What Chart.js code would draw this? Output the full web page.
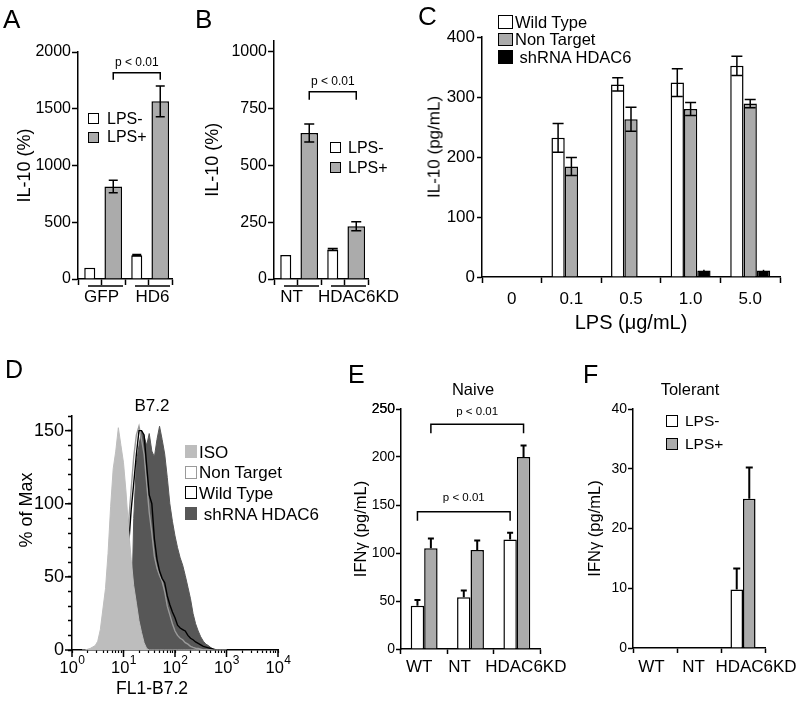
<!DOCTYPE html>
<html>
<head>
<meta charset="utf-8">
<title>IL-10 / IFNγ figure</title>
<script src="https://cdn.jsdelivr.net/npm/chart.js@4.4.1/dist/chart.umd.min.js"></script>
<style>
  body { margin: 0; width: 800px; height: 704px; position: relative; overflow: hidden; background: #fff;
         font-family: Arial, "Liberation Sans", Helvetica, sans-serif; }
  canvas { position: absolute; }
  .t { position: absolute; white-space: pre; line-height: 1; color: #000; transform: translateY(-50%); }
  .c { transform: translate(-50%, -50%); }
  .r { transform: translate(-50%, -50%) rotate(-90deg); }
  .box { position: absolute; box-sizing: border-box; }
</style>
</head>
<body>
<script>
// ---- A: IL-10 (%) after GFP / HD6 transfection ----
const barsA = ['GFP LPS-', 'GFP LPS+', 'HD6 LPS-', 'HD6 LPS+'];
const groupsA = ['GFP', 'HD6'];
const minusA = [100, null, 210, null];
const plusA = [null, 815, null, 1565];
const minusErrA = [0, null, 6, null];
const plusErrA = [null, 55, null, 135];

// ---- B: IL-10 (%) NT vs HDAC6 knock-down ----
const barsB = ['NT LPS-', 'NT LPS+', 'HDAC6KD LPS-', 'HDAC6KD LPS+'];
const groupsB = ['NT', 'HDAC6KD'];
const minusB = [106, null, 130, null];
const plusB = [null, 643, null, 232];
const minusErrB = [0, null, 4, null];
const plusErrB = [null, 40, null, 20];

// ---- C: IL-10 (pg/mL) vs LPS dose ----
const lpsDoses = ['0', '0.1', '0.5', '1.0', '5.0'];
const wildTypeC = [null, 232, 321, 324, 352];
const nonTargetC = [null, 184, 263, 280, 289];
const shHdac6C = [null, null, 1.5, 11, 11];
const wildTypeErrC = [0, 24, 11, 23, 16];
const nonTargetErrC = [0, 15, 20, 11, 7];
const shHdac6ErrC = [0, 0, 0, 1, 1];

// ---- D: B7.2 flow histogram (% of max per FL1 channel) ----
const fl1Channel = [1.58, 1.78, 2.0, 2.24, 2.51, 2.82, 3.16, 3.55, 3.98, 4.47,
  5.01, 5.62, 6.31, 7.08, 7.94, 8.91, 10, 11.2, 12.6, 14.1,
  15.8, 17.8, 20.0, 22.4, 25.1, 28.2, 31.6, 35.5, 39.8, 44.7,
  50.1, 56.2, 63.1, 70.8, 79.4, 89.1, 100, 112, 126, 141,
  158, 178, 200, 224, 251, 282, 316, 355, 398, 447,
  501, 562, 631, 708, 794, 891, 1000];
const isoCounts = [0, 0, 0.5, 1, 2, 3, 6, 14, 28, 42,
  66, 98, 124, 136, 152, 140, 128, 108, 82, 62,
  44, 32, 20, 12, 5, 1, 0, 0, 0, 0,
  0, 0, 0, 0, 0, 0, 0, 0, 0, 0,
  0, 0, 0, 0, 0, 0, 0, 0, 0, 0,
  0, 0, 0, 0, 0, 0, 0];
const nonTargetCounts = [0, 0, 0, 0, 0, 0, 0, 0, 0, 0,
  0, 0, 0, 0, 0, 0, 15, 50, 88, 110,
  132, 147, 153, 144, 134, 114, 94, 80, 64, 56,
  51, 47, 40, 30, 24, 18, 13, 10, 8, 7,
  5, 4, 2.5, 1.8, 1.2, 1, 0.5, 0, 0, 0,
  0, 0, 0, 0, 0, 0, 0];
const wildTypeCounts = [0, 0, 0, 0, 0, 0, 0, 0, 0, 0,
  0, 0, 0, 0, 0, 0, 10, 38, 72, 96,
  114, 134, 150, 150, 147, 126, 106, 100, 76, 62,
  54, 49, 46, 37, 31, 26, 22, 17, 15, 14,
  13, 10, 8, 7, 5.5, 4.5, 3.5, 2.5, 2, 1.5,
  1, 0.5, 0, 0, 0, 0, 0];
const shHdac6Counts = [0, 0, 0, 0, 0, 0, 0, 0, 0, 0,
  0, 0, 0, 0, 0, 0, 0, 0, 2, 12,
  90, 128, 140, 150, 146, 140, 148, 136, 132, 144,
  153, 144, 134, 118, 100, 88, 78, 70, 63, 58,
  51, 43, 35, 25, 18, 13, 9, 6, 4, 3,
  1.5, 0.5, 0, 0, 0, 0, 0];
const decadesD = [1, 10, 100, 1000, 10000];

// ---- E / F: IFNγ (pg/mL) ----
const strains = ['WT', 'NT', 'HDAC6KD'];
const naiveMinus = [45, 54, 114];
const naivePlus = [105, 103, 200];
const naiveMinusErr = [6, 7, 7];
const naivePlusErr = [10, 10, 12];
const tolerantMinus = [null, null, 9.8];
const tolerantPlus = [null, null, 25];
const tolerantMinusErr = [0, 0, 3.5];
const tolerantPlusErr = [0, 0, 5.2];

// ---- shared setup ----
const FONT = 'Arial, "Liberation Sans", Helvetica, sans-serif';
const GRAY = '#ababab';
Chart.defaults.font.family = FONT;
Chart.defaults.color = '#000';
Chart.defaults.animation = false;
Chart.defaults.plugins.legend.display = false;
Chart.defaults.plugins.tooltip.enabled = false;

function addText(str, x, y, size, cls) {
  const d = document.createElement('div');
  d.className = 't' + (cls ? ' ' + cls : '');
  d.textContent = str;
  d.style.left = x + 'px';
  d.style.top = y + 'px';
  d.style.fontSize = size + 'px';
  document.body.appendChild(d);
  return d;
}

// legend boxes built from the chart's own datasets
function htmlLegend(chart, o) {
  chart.data.datasets.forEach((ds, i) => {
    const top = o.y + i * o.step;
    const b = document.createElement('div');
    b.className = 'box';
    b.style.left = o.x + 'px';
    b.style.top = top + 'px';
    b.style.width = o.bw + 'px';
    b.style.height = o.bh + 'px';
    b.style.background = ds.legendFill || ds.backgroundColor;
    b.style.border = ds.legendBorder || ('1.5px solid ' + ds.borderColor);
    document.body.appendChild(b);
    addText(ds.label, o.tx, top + o.bh / 2, o.fs);
  });
}

function yAxis(o) {
  const ax = {
    min: o.min, max: o.max,
    // ticks every `step` from min, the axis line may run a bit past the last one
    afterBuildTicks: s => {
      const t = [];
      for (let v = o.min; v <= o.max + 1e-9; v += o.step) t.push({ value: v });
      s.ticks = t;
    },
    border: { color: '#000', width: 1.5 },
    grid: { drawOnChartArea: false, tickLength: o.tick || 6, tickColor: '#000', tickWidth: 1.5 },
    ticks: { font: { size: o.fs }, padding: o.pad ?? 1, autoSkip: false, callback: o.cb || (v => String(v)) },
    title: { display: !!o.title, text: o.title || '', font: { size: o.tfs || 16 }, padding: 0 }
  };
  if (o.z) ax.z = o.z;
  return ax;
}

function xAxis(o) {
  return {
    border: { color: '#000', width: 1.5 },
    grid: { drawOnChartArea: false, tickLength: o.tick || 6, tickColor: '#000', tickWidth: 1.5 },
    ticks: { display: o.labels !== false, font: { size: o.fs || 17 }, padding: o.pad ?? 3, maxRotation: 0, autoSkip: false },
    title: { display: !!o.title, text: o.title || '', font: { size: o.tfs || 18 }, padding: 0 }
  };
}

// error bars, significance brackets, group underlines, shifted category labels, major ticks
function overlay(cfg) {
  return {
    id: 'overlay',
    afterDatasetsDraw(chart) {
      const ctx = chart.ctx, ys = chart.scales.y;
      ctx.save();
      ctx.strokeStyle = '#000';
      ctx.fillStyle = '#000';
      (cfg.errors || []).forEach(e => {
        const meta = chart.getDatasetMeta(e.ds);
        const vals = chart.data.datasets[e.ds].data;
        ctx.lineWidth = e.lw || 1.5;
        vals.forEach((v, i) => {
          const err = e.err[i];
          if (v == null || !err) return;
          const x = meta.data[i].x;
          const top = ys.getPixelForValue(v + err);
          const bot = ys.getPixelForValue(e.upperOnly ? v : v - err);
          const h = e.cap / 2;
          ctx.beginPath();
          ctx.moveTo(x, top); ctx.lineTo(x, bot);
          ctx.moveTo(x - h, top); ctx.lineTo(x + h, top);
          if (!e.upperOnly) { ctx.moveTo(x - h, bot); ctx.lineTo(x + h, bot); }
          ctx.stroke();
        });
      });
      (cfg.brackets || []).forEach(b => {
        const x1 = chart.getDatasetMeta(b.from[0]).data[b.from[1]].x;
        const x2 = chart.getDatasetMeta(b.to[0]).data[b.to[1]].x;
        const y = ys.getPixelForValue(b.at);
        ctx.lineWidth = 1.5;
        ctx.beginPath();
        ctx.moveTo(x1, y + b.leg); ctx.lineTo(x1, y); ctx.lineTo(x2, y); ctx.lineTo(x2, y + b.leg);
        ctx.stroke();
        ctx.font = b.fs + 'px ' + FONT;
        ctx.textAlign = 'center';
        ctx.textBaseline = 'middle';
        ctx.fillText(b.text, (x1 + x2) / 2, y - b.gap);
      });
      ctx.restore();
    },
    afterDraw(chart) {
      const ctx = chart.ctx, area = chart.chartArea;
      ctx.save();
      ctx.strokeStyle = '#000';
      ctx.fillStyle = '#000';
      ctx.lineWidth = 1.5;
      ctx.textAlign = 'center';
      ctx.textBaseline = 'middle';
      if (cfg.groups) {
        const g = cfg.groups, xs = chart.scales.x;
        const half = (xs.getPixelForValue(1) - xs.getPixelForValue(0)) / 2;
        ctx.font = g.fs + 'px ' + FONT;
        g.names.forEach((name, k) => {
          const a = xs.getPixelForValue(k * g.size) - half + 10;
          const b = xs.getPixelForValue(k * g.size + g.size - 1) + half - 2;
          ctx.beginPath();
          ctx.moveTo(a, xs.top + 7); ctx.lineTo(b, xs.top + 7);
          ctx.stroke();
          ctx.fillText(name, (a + b) / 2 + g.shifts[k], xs.top + 18);
        });
      }
      if (cfg.catLabels) {
        const c = cfg.catLabels, xs = chart.scales.x;
        ctx.font = c.fs + 'px ' + FONT;
        chart.data.labels.forEach((name, i) => {
          ctx.fillText(name, xs.getPixelForValue(i) + c.shifts[i], xs.top + c.dy);
        });
      }
      if (cfg.topLabel) {
        // top y tick label, drawn once more from the scale's last tick
        const ys = chart.scales.y, last = ys.ticks[ys.ticks.length - 1];
        const o = ys.options;
        ctx.font = o.ticks.font.size + 'px ' + FONT;
        ctx.textAlign = 'right';
        ctx.fillText(last.label, area.left - o.grid.tickLength - o.ticks.padding, ys.getPixelForValue(last.value));
        ctx.textAlign = 'center';
      }
      if (cfg.powLabels) {
        // 10 with a raised exponent under each decade tick
        const p = cfg.powLabels, xs = chart.scales.x;
        p.values.forEach(v => {
          const e = String(Math.round(Math.log10(v)));
          ctx.font = p.fs + 'px ' + FONT;
          const wb = ctx.measureText(p.base).width;
          ctx.font = p.efs + 'px ' + FONT;
          const we = ctx.measureText(e).width;
          const x0 = xs.getPixelForValue(v) - (wb + we) / 2;
          ctx.textAlign = 'left';
          ctx.font = p.fs + 'px ' + FONT;
          ctx.fillText(p.base, x0, xs.top + p.dy);
          ctx.font = p.efs + 'px ' + FONT;
          ctx.fillText(e, x0 + wb + 0.5, xs.top + p.dy - p.rise);
        });
        ctx.textAlign = 'center';
      }
      (cfg.majorX || []).forEach(v => {
        const px = chart.scales.x.getPixelForValue(v);
        ctx.beginPath(); ctx.moveTo(px, area.bottom); ctx.lineTo(px, area.bottom + cfg.majorLen); ctx.stroke();
      });
      (cfg.majorY || []).forEach(v => {
        const py = chart.scales.y.getPixelForValue(v);
        ctx.beginPath(); ctx.moveTo(area.left - cfg.majorLen, py); ctx.lineTo(area.left, py); ctx.stroke();
      });
      ctx.restore();
    }
  };
}

// canvas box on the page + wanted chart area; axis boxes are given fixed sizes
function panel(box, area, axisLeft, cfg) {
  const c = document.createElement('canvas');
  c.width = box.w;
  c.height = box.h;
  c.style.left = box.x + 'px';
  c.style.top = box.y + 'px';
  document.body.appendChild(c);
  cfg.options.responsive = false;
  cfg.options.layout = { padding: { left: axisLeft - box.x, top: area.t - box.y, right: box.x + box.w - area.r, bottom: 0 } };
  cfg.options.scales.y.afterFit = s => { s.width = area.l - axisLeft; };
  cfg.options.scales.x.afterFit = s => { s.height = box.y + box.h - area.b; };
  return new Chart(c, cfg);
}

function barSet(label, data, fill, extra) {
  return Object.assign({ label, data, backgroundColor: fill, borderColor: '#000', borderWidth: 1.5 }, extra);
}

// ---- A ----
const chartA = panel({ x: 0, y: 0, w: 200, h: 320 }, { l: 78, t: 52, r: 172, b: 279 }, 14, {
  type: 'bar',
  data: { labels: barsA, datasets: [
    barSet('LPS-', minusA, '#fff', { grouped: false, categoryPercentage: 1, barPercentage: 0.47 }),
    barSet('LPS+', plusA, GRAY, { grouped: false, categoryPercentage: 1, barPercentage: 0.75 })
  ] },
  options: { scales: {
    x: xAxis({ labels: false }),
    y: yAxis({ min: 0, max: 2000, step: 500, fs: 16, title: 'IL-10 (%)', tfs: 18 })
  } },
  plugins: [overlay({
    errors: [{ ds: 0, err: minusErrA, cap: 9 }, { ds: 1, err: plusErrA, cap: 9 }],
    brackets: [{ from: [1, 1], to: [1, 3], at: 1818, leg: 7, gap: 10, fs: 12, text: 'p < 0.01' }],
    groups: { names: groupsA, size: 2, shifts: [-4, 0], fs: 17 }
  })]
});
htmlLegend(chartA, { x: 88, y: 113, step: 18.5, bw: 11, bh: 11, tx: 107, fs: 16 });

// ---- B ----
const chartB = panel({ x: 196, y: 0, w: 214, h: 320 }, { l: 274, t: 40.6, r: 368, b: 279 }, 202, {
  type: 'bar',
  data: { labels: barsB, datasets: [
    barSet('LPS-', minusB, '#fff', { grouped: false, categoryPercentage: 1, barPercentage: 0.47 }),
    barSet('LPS+', plusB, GRAY, { grouped: false, categoryPercentage: 1, barPercentage: 0.75 })
  ] },
  options: { scales: {
    x: xAxis({ labels: false }),
    y: yAxis({ min: 0, max: 1050, step: 250, fs: 16, title: 'IL-10 (%)', tfs: 18 })
  } },
  plugins: [overlay({
    errors: [{ ds: 0, err: minusErrB, cap: 10 }, { ds: 1, err: plusErrB, cap: 10 }],
    brackets: [{ from: [1, 1], to: [1, 3], at: 825, leg: 8, gap: 10, fs: 12, text: 'p < 0.01' }],
    groups: { names: groupsB, size: 2, shifts: [-10, 10], fs: 17 }
  })]
});
htmlLegend(chartB, { x: 330, y: 142, step: 20, bw: 11, bh: 11, tx: 348, fs: 16 });

// ---- C ----
const chartC = panel({ x: 400, y: 0, w: 400, h: 335 }, { l: 482, t: 37, r: 780, b: 277 }, 420, {
  type: 'bar',
  data: { labels: lpsDoses, datasets: [
    barSet('Wild Type', wildTypeC, '#fff', { categoryPercentage: 0.67, barPercentage: 1 }),
    barSet('Non Target', nonTargetC, GRAY, { categoryPercentage: 0.67, barPercentage: 1 }),
    barSet(' shRNA HDAC6', shHdac6C, '#000', { categoryPercentage: 0.67, barPercentage: 1 })
  ] },
  options: { scales: {
    x: xAxis({ fs: 17, pad: 6, title: 'LPS (μg/mL)', tfs: 20 }),
    y: yAxis({ min: 0, max: 400, step: 100, fs: 17, tick: 5, pad: 2 })
  } },
  plugins: [overlay({
    errors: [
      { ds: 0, err: wildTypeErrC, cap: 11 },
      { ds: 1, err: nonTargetErrC, cap: 11 },
      { ds: 2, err: shHdac6ErrC, cap: 0 }
    ]
  })]
});
htmlLegend(chartC, { x: 498, y: 15, step: 17.5, bw: 15, bh: 13.5, tx: 515, fs: 16.5 });
addText('IL-10 (pg/mL)', 434, 147, 17, 'r');

// ---- D ----
const ticksD = [];
decadesD.slice(0, -1).forEach(d => { for (let k = 1; k <= 9; k++) ticksD.push(d * k); });
ticksD.push(decadesD[decadesD.length - 1]);
const hist = arr => fl1Channel.map((x, i) => ({ x, y: arr[i] }));
const lineBase = { pointRadius: 0, tension: 0 };
const chartD = panel({ x: 0, y: 390, w: 330, h: 314 }, { l: 72, t: 416, r: 278, b: 650 }, 30, {
  type: 'line',
  data: { datasets: [
    Object.assign({ label: 'ISO', data: hist(isoCounts), order: 0, fill: 'origin', backgroundColor: '#bdbdbd',
      borderColor: '#bdbdbd', borderWidth: 1, legendFill: '#bdbdbd', legendBorder: 'none' }, lineBase),
    Object.assign({ label: 'Non Target', data: hist(nonTargetCounts), order: 2, fill: false, borderColor: '#9a9a9a',
      borderWidth: 1.4, legendFill: '#fff', legendBorder: '1.5px solid #9a9a9a' }, lineBase),
    Object.assign({ label: 'Wild Type', data: hist(wildTypeCounts), order: 1, fill: false, borderColor: '#000',
      borderWidth: 1.4, legendFill: '#fff', legendBorder: '1.5px solid #000' }, lineBase),
    Object.assign({ label: ' shRNA HDAC6', data: hist(shHdac6Counts), order: 3, fill: 'origin', backgroundColor: '#575757',
      borderColor: '#575757', borderWidth: 1, legendFill: '#575757', legendBorder: 'none' }, lineBase)
  ] },
  options: { scales: {
    x: {
      type: 'logarithmic', min: 1, max: 10000, z: 1,
      afterBuildTicks: s => { s.ticks = ticksD.map(v => ({ value: v })); },
      border: { color: '#000', width: 1.5 },
      grid: { drawOnChartArea: false, tickLength: 3, tickColor: '#000', tickWidth: 1.2 },
      ticks: { autoSkip: false, maxRotation: 0, callback: () => '' }
    },
    y: yAxis({ min: 0, max: 160, step: 10, fs: 18, tick: 4, pad: 4, z: 1, cb: v => (v % 50 === 0 ? String(v) : '') })
  } },
  plugins: [overlay({
    majorX: decadesD, majorY: [0, 50, 100, 150], majorLen: 7,
    powLabels: { values: decadesD, base: '10', fs: 16.5, efs: 12, dy: 18, rise: 7 }
  })]
});
htmlLegend(chartD, { x: 185, y: 445, step: 20.7, bw: 12, bh: 13, tx: 199, fs: 17 });
addText('B7.2', 152, 405, 17, 'c');
addText('FL1-B7.2', 152, 689, 17.5, 'c');
addText('% of Max', 26, 510, 18, 'r');

// ---- E ----
const chartE = panel({ x: 340, y: 380, w: 240, h: 324 }, { l: 401, t: 409, r: 540, b: 649 }, 352, {
  type: 'bar',
  data: { labels: strains, datasets: [
    barSet('LPS-', naiveMinus, '#fff', { categoryPercentage: 0.58, barPercentage: 1 }),
    barSet('LPS+', naivePlus, GRAY, { categoryPercentage: 0.58, barPercentage: 1 })
  ] },
  options: { scales: {
    x: xAxis({ labels: false, tick: 5 }),
    y: yAxis({ min: 0, max: 250, step: 50, fs: 14, tick: 5, pad: 1, title: 'IFNγ (pg/mL)', tfs: 16.5 })
  } },
  plugins: [overlay({
    errors: [
      { ds: 0, err: naiveMinusErr, cap: 6, lw: 2, upperOnly: true },
      { ds: 1, err: naivePlusErr, cap: 6, lw: 2, upperOnly: true }
    ],
    brackets: [
      { from: [1, 0], to: [1, 2], at: 234, leg: 9, gap: 13, fs: 11.5, text: 'p < 0.01' },
      { from: [0, 0], to: [0, 2], at: 143, leg: 9, gap: 14, fs: 11.5, text: 'p < 0.01' }
    ],
    catLabels: { shifts: [-5, -11, 9], dy: 18, fs: 17 },
    topLabel: true
  })]
});
addText('Naive', 473, 389, 16.5, 'c');

// ---- F ----
const chartF = panel({ x: 575, y: 380, w: 225, h: 324 }, { l: 633, t: 409, r: 765, b: 648 }, 585.6, {
  type: 'bar',
  data: { labels: strains, datasets: [
    barSet('LPS-', tolerantMinus, '#fff', { categoryPercentage: 0.57, barPercentage: 1 }),
    barSet('LPS+', tolerantPlus, GRAY, { categoryPercentage: 0.57, barPercentage: 1 })
  ] },
  options: { scales: {
    x: xAxis({ labels: false, tick: 5 }),
    y: yAxis({ min: 0, max: 40, step: 10, fs: 14, tick: 5, pad: 1, title: 'IFNγ (pg/mL)', tfs: 16.5 })
  } },
  plugins: [overlay({
    errors: [
      { ds: 0, err: tolerantMinusErr, cap: 7, lw: 2, upperOnly: true },
      { ds: 1, err: tolerantPlusErr, cap: 7, lw: 2, upperOnly: true }
    ],
    catLabels: { shifts: [-3.5, -5.5, 13], dy: 19, fs: 17 }
  })]
});
htmlLegend(chartF, { x: 666, y: 415, step: 23.3, bw: 12, bh: 12, tx: 685, fs: 15.5 });
addText('Tolerant', 690, 389, 16.5, 'c');

// panel letters
[['A', 3, 19, 26], ['B', 195, 19, 26], ['C', 418, 16, 26], ['D', 5, 369, 25], ['E', 348, 374, 25], ['F', 583, 374, 25]]
  .forEach(([s, x, y, f]) => addText(s, x, y, f));
</script>
</body>
</html>
